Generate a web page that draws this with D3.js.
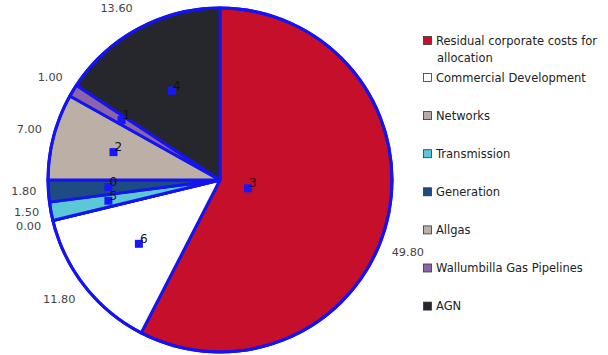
<!DOCTYPE html>
<html><head><meta charset="utf-8">
<script src="https://cdn.jsdelivr.net/npm/d3@7/dist/d3.min.js"></script>
<style>body{margin:0;background:#fff}svg{display:block}</style>
</head><body>
<svg id="c" width="608" height="355"></svg>
<script>
// Data (clockwise from 12 o'clock)
const categories = ["Residual corporate costs for allocation","Commercial Development","Networks","Transmission","Generation","Allgas","Wallumbilla Gas Pipelines","AGN"];
const values = [49.80, 11.80, 0.00, 1.50, 1.80, 7.00, 1.00, 13.60];
const valueLabels = ["49.80","11.80","0.00","1.50","1.80","7.00","1.00","13.60"];
const markerNumbers = ["3","6","","5","0","2","1","4"];
const colors = ["#c50f2b","#ffffff","#b7a9a3","#5cc7d7","#1e4b82","#bcafa5","#8b64aa","#25272c"];

const svg = d3.select("#c");
const cx = 220, cy = 180, r = 172;
const g = svg.append("g").attr("transform", `translate(${cx},${cy})`);

const pie = d3.pie().sort(null).value(d => d)(values);
const arc = d3.arc().innerRadius(0).outerRadius(r);

g.selectAll("path.slice").data(pie).join("path")
  .attr("class","slice")
  .attr("d", arc)
  .attr("fill", (d,i) => colors[i])
  .attr("stroke", "#1414f0")
  .attr("stroke-width", 3)
  .attr("stroke-linejoin","round");

// outer ring
g.append("circle").attr("r", r).attr("fill","none").attr("stroke","#1414f0").attr("stroke-width",3);

// markers
const markerFrac = [0.17,0.6,0.6,0.66,0.65,0.64,0.67,0.59];
pie.forEach((d,i) => {
  if (!markerNumbers[i]) return;
  const a = (d.startAngle + d.endAngle)/2 + (i===0 ? 0.05 : 0);
  const rr = r * markerFrac[i];
  const x = Math.sin(a)*rr, y = -Math.cos(a)*rr;
  g.append("rect").attr("x", x-4).attr("y", y-4).attr("width", 8).attr("height", 8).attr("fill","#1717ff");
  g.append("text").attr("x", x+1).attr("y", y-1).text(markerNumbers[i])
    .attr("font-family","DejaVu Sans, sans-serif").attr("font-size", 12).attr("fill", i===0 ? "#3a0008" : "#111");
});

// value labels
const labelNudge = [4, 2, 2, -2, 0, -2, -3, -3];
pie.forEach((d,i) => {
  let a = (d.startAngle + d.endAngle)/2;
  if (i===0) a += 0.13;
  const rr = r + 12;
  const sx = Math.sin(a), sy = -Math.cos(a);
  const x = sx*rr, y = sy*rr + sy*7 + labelNudge[i];
  g.append("text").attr("x", x).attr("y", y)
    .attr("text-anchor", sx < 0 ? "end" : "start")
    .attr("dominant-baseline","middle")
    .attr("font-family","DejaVu Sans, sans-serif").attr("font-size", 11.3)
    .attr("fill","#444").text(valueLabels[i]);
});

// legend
const lg = svg.append("g");
const legendY = categories.map((c,i) => i===0 ? 41 : 78 + (i-1)*38.1);
categories.forEach((c,i) => {
  const y = legendY[i];
  lg.append("rect").attr("x", 423.5).attr("y", y-4.5).attr("width", 8).attr("height", 8)
    .attr("fill", colors[i]).attr("stroke","#333").attr("stroke-width",0.8);
  const t = lg.append("text").attr("x", 436).attr("y", y).attr("dominant-baseline","middle")
    .attr("font-family","DejaVu Sans, sans-serif").attr("font-size", 11.5).attr("fill","#222");
  if (i===0) {
    t.append("tspan").attr("x",436).text("Residual corporate costs for");
    t.append("tspan").attr("x",437).attr("dy",17).text("allocation");
  } else t.text(c);
});
</script>
</body></html>
